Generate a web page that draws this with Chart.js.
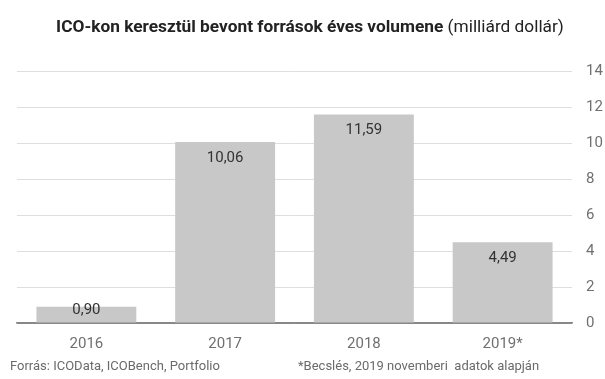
<!DOCTYPE html>
<html>
<head>
<meta charset="utf-8">
<script src="https://cdn.jsdelivr.net/npm/chart.js@4/dist/chart.umd.min.js"></script>
<style>
  html, body { margin: 0; padding: 0; background: #fff; }
  #wrap { width: 605px; height: 379px; }
</style>
</head>
<body>
<div id="wrap"><canvas id="chart" width="605" height="379"></canvas></div>
<script>
// ICO funding per year, billion USD
const years = ['2016', '2017', '2018', '2019*'];
const volumes = [0.90, 10.06, 11.59, 4.49];
const yTicks = [0, 2, 4, 6, 8, 10, 12, 14];

const titleBold = 'ICO-kon keresztül bevont források éves volumene';
const titleNormal = ' (milliárd dollár)';
const sourceNote = 'Forrás: ICOData, ICOBench, Portfolio';
const estimateNote = '*Becslés, 2019 novemberi  adatok alapján';

const FONT = 'Roboto, "Noto Sans", sans-serif';

// title and the two footnotes
const textPlugin = {
  id: 'texts',
  afterDraw(chart) {
    const c = chart.ctx;
    c.save();
    c.textBaseline = 'middle';
    c.fillStyle = '#222';
    c.font = 'bold 17.3px ' + FONT;
    const w1 = c.measureText(titleBold).width;
    c.font = '17.3px ' + FONT;
    const w2 = c.measureText(titleNormal).width;
    let x = 310 - (w1 + w2) / 2;
    c.textAlign = 'left';
    c.font = 'bold 17.3px ' + FONT;
    c.fillText(titleBold, x, 28);
    c.font = '17.3px ' + FONT;
    c.fillText(titleNormal, x + w1, 28);

    c.fillStyle = '#6a6a6a';
    c.font = '13px ' + FONT;
    c.fillText(sourceNote, 10, 367);
    c.fillText(estimateNote, 298, 367);
    c.restore();
  }
};

// value labels inside the top of each bar
const valueLabels = {
  id: 'valueLabels',
  afterDatasetsDraw(chart) {
    const c = chart.ctx;
    const meta = chart.getDatasetMeta(0);
    const base = chart.scales.y.getPixelForValue(0);
    c.save();
    c.font = '15px ' + FONT;
    c.fillStyle = '#333';
    c.textAlign = 'center';
    c.textBaseline = 'middle';
    meta.data.forEach((bar, i) => {
      const y = Math.min(bar.y + 16, base - 13);
      c.fillText(volumes[i].toFixed(2).replace('.', ','), bar.x, y);
    });
    c.restore();
  }
};

new Chart(document.getElementById('chart'), {
  type: 'bar',
  data: {
    labels: years,
    datasets: [{
      data: volumes,
      backgroundColor: '#c8c8c8',
      barPercentage: 0.72,
      categoryPercentage: 1
    }]
  },
  options: {
    responsive: false,
    animation: false,
    layout: { padding: { left: 17, right: 0, top: 71, bottom: 23 } },
    plugins: {
      legend: { display: false },
      tooltip: { enabled: false }
    },
    scales: {
      x: {
        afterFit(axis) { axis.height = 33; },
        grid: { display: false },
        border: { display: true, color: '#888', width: 1.5 },
        ticks: { color: '#707070', font: { family: FONT, size: 15 }, padding: 4 }
      },
      y: {
        position: 'right',
        min: 0,
        max: 14,
        afterFit(axis) { axis.width = 33; },
        afterBuildTicks(axis) { axis.ticks = yTicks.map(v => ({ value: v })); },
        grid: {
          drawTicks: false,
          color: ctx => ctx.tick && ctx.tick.value === 0 ? '#888' : '#dedede'
        },
        border: { display: false },
        ticks: { color: '#707070', font: { family: FONT, size: 15 }, padding: 14 }
      }
    }
  },
  plugins: [textPlugin, valueLabels]
});
</script>
</body>
</html>
